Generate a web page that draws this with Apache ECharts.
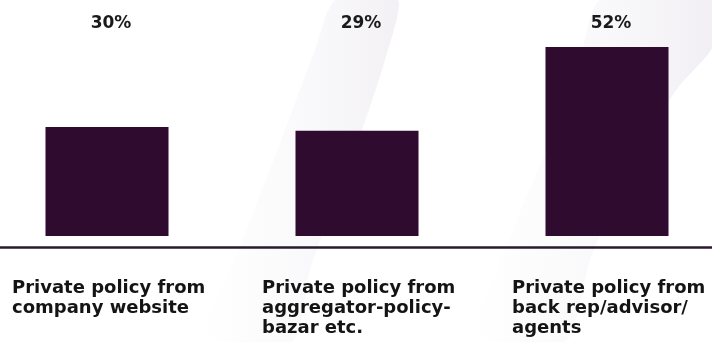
<!DOCTYPE html>
<html>
<head>
<meta charset="utf-8">
<script src="https://cdn.jsdelivr.net/npm/echarts@6/dist/echarts.min.js"></script>
<style>
  html, body { margin: 0; padding: 0; background: #ffffff; }
  #chart { width: 712px; height: 342px; }
</style>
</head>
<body>
<div id="chart"></div>
<script>
// Purchase channels for private policies (share of respondents, %)
const categories = [
  'Private policy from\ncompany website',
  'Private policy from\naggregator-policy-\nbazar etc.',
  'Private policy from\nback rep/advisor/\nagents'
];
const shares = [30, 29, 52];
const yMin = -3;   // leaves a small gap between bar feet and the baseline
const yMax = 60;

const barColor = '#2f0b2f';
const fontFamily = '"DejaVu Sans", "Open Sans", sans-serif';

function fade(alpha) {
  return {
    type: 'linear', x: 0, y: 0, x2: 1, y2: 0,
    colorStops: [
      { offset: 0, color: 'rgba(235,232,238,0)' },
      { offset: 1, color: 'rgba(222,217,228,' + alpha + ')' }
    ]
  };
}

// faint decorative swooshes in the background
const swooshA = [[335, 0], [398, 0], [385, 60], [362, 130], [335, 200], [310, 270], [292, 342],
                 [200, 342], [230, 270], [258, 200], [285, 130], [315, 50]];
const swooshB = [[600, 0], [712, 0], [712, 48], [680, 85], [650, 130], [620, 190], [590, 260], [565, 342],
                 [470, 342], [497, 270], [525, 200], [555, 130], [580, 60]];

const chart = echarts.init(document.getElementById('chart'), null, { renderer: 'canvas' });

chart.setOption({
  backgroundColor: '#ffffff',
  animation: false,
  graphic: [
    { type: 'polygon', z: -10, shape: { points: swooshA, smooth: 0.2 }, style: { fill: fade(0.38) } },
    { type: 'polygon', z: -10, shape: { points: swooshB, smooth: 0.2 }, style: { fill: fade(0.42) } }
  ],
  grid: { left: -18, right: -20, top: 18, bottom: 95, containLabel: false, outerBoundsMode: 'none' },
  xAxis: {
    type: 'category',
    data: categories,
    axisLine: { show: true, onZero: false, lineStyle: { color: '#2a1b2c', width: 2.5 } },
    axisTick: { show: false },
    axisLabel: {
      interval: 0,
      margin: 31,
      width: 190,
      color: '#141414',
      fontFamily: fontFamily,
      fontSize: 18,
      fontWeight: 700,
      lineHeight: 20,
      formatter: function (v) {
        return v.split('\n').map(function (l) { return '{a|' + l + '}'; }).join('\n');
      },
      rich: {
        a: { align: 'left', fontFamily: fontFamily, fontSize: 18, fontWeight: 700, lineHeight: 20, color: '#141414' }
      }
    }
  },
  yAxis: {
    type: 'value',
    min: yMin,
    max: yMax,
    show: false,
    splitLine: { show: false }
  },
  series: [
    {
      name: 'Share',
      type: 'bar',
      data: shares,
      barWidth: 123,
      itemStyle: { color: barColor },
      z: 3
    },
    {
      // transparent full-height column that carries the value label in a fixed row
      name: 'ValueRow',
      type: 'bar',
      data: shares.map(function () { return yMax; }),
      barWidth: 123,
      barGap: '-100%',
      itemStyle: { color: 'rgba(0,0,0,0)' },
      silent: true,
      z: 4,
      label: {
        show: true,
        position: 'insideTop',
        distance: -3,
        offset: [4, 0],
        color: '#1a1a1a',
        fontFamily: fontFamily,
        fontSize: 17,
        fontWeight: 700,
        formatter: function (p) { return shares[p.dataIndex] + '%'; }
      }
    }
  ]
});
</script>
</body>
</html>
